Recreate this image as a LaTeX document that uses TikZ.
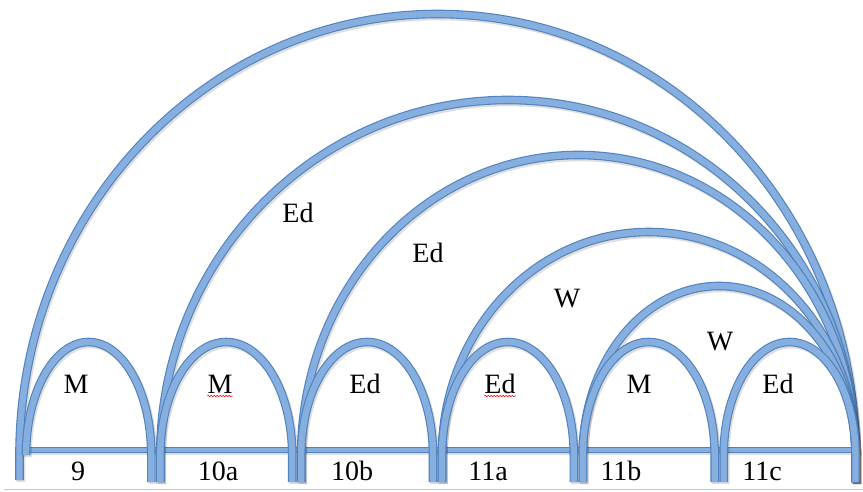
\documentclass[tikz,border=0pt]{standalone}
\usepackage{fontspec}
\setmainfont{Liberation Serif}
\usetikzlibrary{decorations.pathmorphing}
\definecolor{archedge}{HTML}{4F82BE}
\definecolor{archfill}{HTML}{86AEDF}
\tikzset{
  band/.style={draw=archedge, double=archfill, line width=1.1pt, double distance=6.4pt},
  bandshadow/.style={draw=black, opacity=0.13, line width=8.6pt},
  lbl/.style={anchor=base, inner sep=0pt, font=\fontsize{28}{30}\selectfont},
  spell/.style={red, line width=0.6pt, decorate,
    decoration={snake, segment length=3pt, amplitude=0.7pt}},
}
% arch band: left leg x, right leg x, crown height, foot height of the left leg
\newcommand\archband[4]{%
  \draw[bandshadow, shift={(1.5pt,-2pt)}] (#1,#4) -- (#1,36)
    arc[start angle=180, end angle=0, x radius={(#2-#1)/2}, y radius={#3-36}] -- (#2,9);
  \draw[band] (#1,#4) -- (#1,36)
    arc[start angle=180, end angle=0, x radius={(#2-#1)/2}, y radius={#3-36}] -- (#2,9);
}
\begin{document}
\begin{tikzpicture}[x=1pt, y=1pt]
\useasboundingbox (0,0) rectangle (863,491);

% page edge
\draw[gray!45, line width=0.8pt] (4,2) -- (863,2);

% base bar
\draw[bandshadow, line width=6pt, shift={(1.5pt,-2pt)}] (15,41) -- (860,41);
\draw[band, double distance=4.2pt] (15,41) -- (860,41);

% long arches, each ending at the right end
\archband{19.5}{855.5}{477}{11}
\archband{160.3}{855.5}{391}{9}
\archband{301.2}{855.5}{336}{9}
\archband{442}{855.5}{259}{9}
\archband{582.8}{855.5}{205}{9}

% short arches over the segments
\archband{26}{151.3}{149}{46}
\archband{160.3}{292.2}{149}{9}
\archband{301.2}{433}{149}{9}
\archband{442}{573.8}{149}{9}
\archband{582.8}{714.7}{149}{9}
\archband{723.7}{855.5}{149}{9}

% segment numbers
\node[lbl] (s9)   at (78,11)  {9};
\node[lbl] (s10a) at (218,11) {10a};
\node[lbl] (s10b) at (352,11) {10b};
\node[lbl] (s11a) at (488,11) {11a};
\node[lbl] (s11b) at (621,11) {11b};
\node[lbl] (s11c) at (762,11) {11c};

% short arch labels
\node[lbl] (a9)   at (76,98)  {M};
\node[lbl] (a10a) at (220,98) {M};
\node[lbl] (a10b) at (365,98) {Ed};
\node[lbl] (a11a) at (500,98) {Ed};
\node[lbl] (a11b) at (639,98) {M};
\node[lbl] (a11c) at (778,98) {Ed};

% long arch labels
\node[lbl] (b2) at (298,269) {Ed};
\node[lbl] (b3) at (428,229) {Ed};
\node[lbl] (b4) at (567,184) {W};
\node[lbl] (b5) at (720,141) {W};

% spell-check marks
\draw[spell] ([yshift=-3pt]a10a.base west) -- ([yshift=-3pt]a10a.base east);
\draw[spell] ([yshift=-3pt]a11a.base west) -- ([yshift=-3pt]a11a.base east);
\end{tikzpicture}
\end{document}
